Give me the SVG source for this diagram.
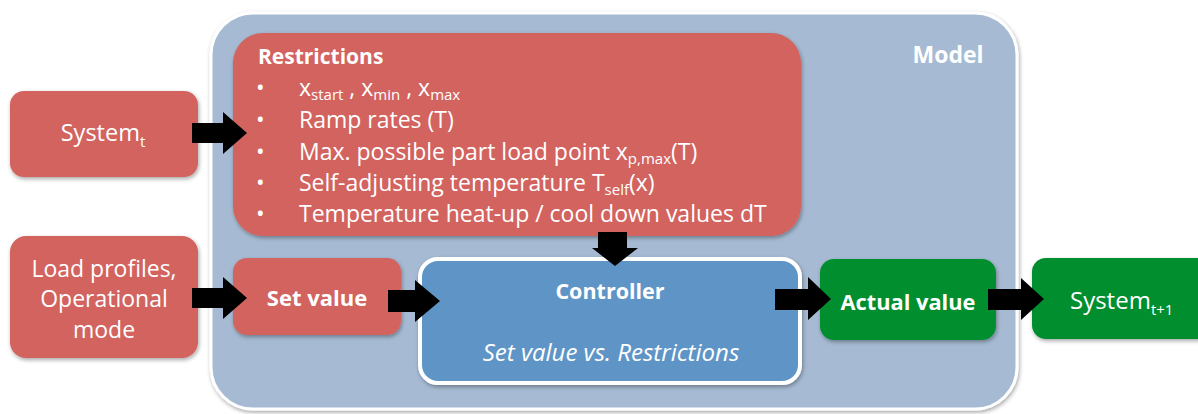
<svg xmlns="http://www.w3.org/2000/svg" width="1198" height="414" viewBox="0 0 1198 414">
<style>
text{font-family:"Open Sans","Liberation Sans",sans-serif;fill:#fff}
.red{fill:#d2635f}
.grn{fill:#038e2f}
.b{font-weight:bold}
.arr{fill:#000}
</style>
<defs>
<filter id="sh" x="-10%" y="-10%" width="130%" height="130%">
<feGaussianBlur in="SourceAlpha" stdDeviation="2"/>
<feOffset dx="1" dy="2"/>
<feComponentTransfer><feFuncA type="linear" slope="0.35"/></feComponentTransfer>
<feMerge><feMergeNode/><feMergeNode in="SourceGraphic"/></feMerge>
</filter>
</defs>
<rect width="1198" height="414" fill="#fff"/>
<g id="model">
<rect x="211" y="13" width="806" height="396" rx="42" fill="#a6bbd3" stroke="#fff" stroke-width="3" filter="url(#sh)"/>
<text x="948" y="63" font-size="23" class="b" text-anchor="middle">Model</text>
</g>
<g id="restrictions">
<rect x="233" y="33" width="568" height="203" rx="30" class="red" filter="url(#sh)"/>
<text x="258" y="64" font-size="21" class="b">Restrictions</text>
<g font-size="23">
<text x="256" y="96">•</text><text x="256" y="128">•</text><text x="256" y="160">•</text><text x="256" y="191">•</text><text x="256" y="222">•</text>
<text x="299" y="96">x<tspan font-size="15" dy="4">start</tspan><tspan dy="-4"> , x</tspan><tspan font-size="15" dy="4">min</tspan><tspan dy="-4">  , x</tspan><tspan font-size="15" dy="4">max</tspan></text>
<text x="299" y="128">Ramp rates (T)</text>
<text x="299" y="160">Max. possible part load point x<tspan font-size="15" dy="4">p,max</tspan><tspan dy="-4">(T)</tspan></text>
<text x="299" y="191">Self-adjusting temperature T<tspan font-size="15" dy="4">self</tspan><tspan dy="-4">(x)</tspan></text>
<text x="299" y="222">Temperature heat-up / cool down values dT</text>
</g>
</g>
<g id="system_t">
<rect x="10" y="91" width="188" height="86" rx="14" class="red" filter="url(#sh)"/>
<text x="103" y="141" font-size="23.5" text-anchor="middle">System<tspan font-size="15" dy="6">t</tspan></text>
</g>
<g id="load_profiles">
<rect x="10" y="236" width="188" height="122" rx="16" class="red" filter="url(#sh)"/>
<text x="104" y="277" font-size="23" text-anchor="middle">Load profiles,</text>
<text x="104" y="307" font-size="23" text-anchor="middle">Operational</text>
<text x="104" y="338" font-size="23" text-anchor="middle">mode</text>
</g>
<g id="set_value">
<rect x="233" y="258" width="168" height="77" rx="14" class="red" filter="url(#sh)"/>
<text x="317" y="306" font-size="22" class="b" text-anchor="middle">Set value</text>
</g>
<g id="controller">
<rect x="420" y="259" width="380" height="124" rx="18" fill="#5e95c6" stroke="#fff" stroke-width="4" filter="url(#sh)"/>
<text x="610" y="299" font-size="21.5" class="b" text-anchor="middle">Controller</text>
<text x="611" y="361" font-size="24" font-style="italic" text-anchor="middle">Set value vs. Restrictions</text>
</g>
<g id="actual_value">
<rect x="820" y="259" width="176" height="81" rx="14" class="grn" filter="url(#sh)"/>
<text x="908" y="310" font-size="21.8" class="b" text-anchor="middle">Actual value</text>
</g>
<g id="system_t1">
<rect x="1032" y="258" width="180" height="81" rx="14" class="grn" filter="url(#sh)"/>
<text x="1070" y="309" font-size="24">System<tspan font-size="15" dy="6">t+1</tspan></text>
</g>
<g id="connectors" class="arr">
<polygon points="192,123 223,123 223,112 247,133 223,154 223,143 192,143"/>
<polygon points="192,288 223,288 223,277 247,298 223,319 223,308 192,308"/>
<polygon points="388,290 415,290 415,280 440,301 415,322 415,312 388,312"/>
<polygon points="775,289 808,289 808,277 831,299 808,320 808,310 775,310"/>
<polygon points="988,289 1021,289 1021,278 1044,299 1021,320 1021,310 988,310"/>
<polygon points="598,232 627,232 627,248 638,248 615,266 592,248 598,248"/>
</g>
</svg>
